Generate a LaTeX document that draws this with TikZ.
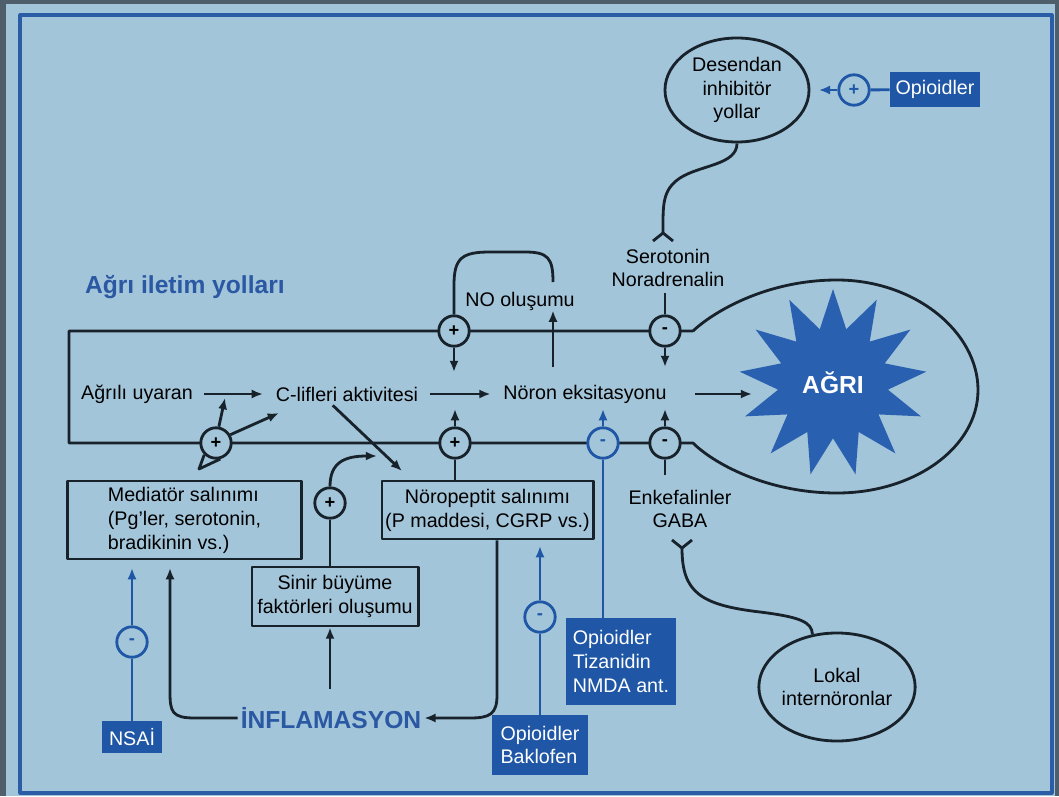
\documentclass[tikz,border=0pt]{standalone}
\usepackage{fontspec}
\setmainfont{Liberation Sans}
\usetikzlibrary{shapes.geometric,arrows.meta}
\definecolor{bgcol}{HTML}{A3C5DA}
\definecolor{edgecol}{HTML}{4E5E6A}
\definecolor{framecol}{HTML}{2B5DA6}
\definecolor{linecol}{HTML}{18222B}
\definecolor{drugblue}{HTML}{1F57A6}
\definecolor{starblue}{HTML}{2A60B0}
\definecolor{titleblue}{HTML}{2A58A2}
\tikzset{
  txt/.style={inner sep=0pt, font=\fontsize{14}{17}\selectfont},
  bigtxt/.style={inner sep=2pt, text=titleblue, font=\bfseries\fontsize{17.5}{20}\selectfont},
  sign/.style={shape=circle, draw=linecol, line width=2pt, fill=bgcol, minimum size=0.76cm, inner sep=0pt, font=\bfseries\fontsize{13}{13}\selectfont},
  bsign/.style={sign, draw=drugblue, text=drugblue},
  rbox/.style={draw=linecol, line width=2.1pt, inner sep=2pt, font=\fontsize{14}{17}\selectfont},
  drug/.style={fill=drugblue, text=white, inner sep=4pt, align=left, font=\fontsize{14}{17}\selectfont},
  ovalnode/.style={shape=ellipse, draw=linecol, line width=2pt, align=center, inner sep=0pt, font=\fontsize{14}{17}\selectfont},
  wire/.style={draw=linecol, line width=2pt},
  bwire/.style={draw=drugblue, line width=2pt}
}
\begin{document}
\begin{tikzpicture}[x=0.025cm, y=-0.025cm, >={Latex[length=8pt,width=6.5pt]}, line join=round]
\fill[edgecol] (0,0) rectangle (1059,796);
\fill[bgcol] (6,4) rectangle (1055,796);
\draw[framecol, line width=2.2pt] (20,15) rectangle (1052,793);
\useasboundingbox (0,0) rectangle (1059,796);

\node[bigtxt, anchor=west] (title) at (82,287) {Ağrı iletim yolları};

\draw[wire] (693,331) -- (69,331) -- (69,443) -- (693,443) .. controls (712,462) and (765,493) .. (837,493) .. controls (915,493) and (978,447) .. (978,390) .. controls (978,332) and (915,280) .. (837,280) .. controls (765,280) and (712,313) .. (693,331);

\node[star, star points=13, star point ratio=1.7, fill=starblue, minimum size=4.7cm, inner sep=0pt, text=white, font=\bfseries\fontsize{17.5}{20}\selectfont] (agri) at (833,383) {AĞRI};

\node[txt] (uyaran) at (137,394) {Ağrılı uyaran};
\node[txt] (clif) at (347,394) {C-lifleri aktivitesi};
\node[txt] (noron) at (585,394) {Nöron eksitasyonu};
\node[txt] (nooi) at (520,301) {NO oluşumu};
\node[txt, align=center] (ser) at (668,268) {Serotonin\\Noradrenalin};
\node[txt, align=center] (enk) at (680,509) {Enkefalinler\\GABA};

\node[sign] (pA) at (216,443) {+};
\node[sign] (pNO) at (454,331) {+};
\node[sign] (pNP) at (455,443) {+};
\node[sign] (pSin) at (330,503) {+};
\node[sign] (mSer) at (665,331) {-};
\node[sign] (mEnk) at (665,443) {-};
\node[bsign] (mTiz) at (603,443) {-};
\node[bsign] (mNsai) at (132,642) {-};
\node[bsign] (mBak) at (540,617) {-};
\node[bsign] (pOpi) at (854,90) {+};

\node[rbox, minimum width=5.825cm, minimum height=1.95cm, align=left] (med) at (184.5,520) {Mediatör salınımı\\(Pg’ler, serotonin,\\bradikinin vs.)};
\node[rbox, minimum width=5.275cm, minimum height=1.45cm, align=center] (np) at (487.5,510) {Nöropeptit salınımı\\(P maddesi, CGRP vs.)};
\node[rbox, minimum width=4.15cm, minimum height=1.475cm, align=center] (sinir) at (335,596.5) {Sinir büyüme\\faktörleri oluşumu};
\node[bigtxt] (inflam) at (331,718) {İNFLAMASYON};

\node[drug, minimum width=1.5cm, minimum height=0.8cm] (nsai) at (132,737) {NSAİ};
\node[drug, minimum width=2.375cm, minimum height=1.5cm] (bak) at (540,745) {Opioidler\\Baklofen};
\node[drug, minimum width=2.75cm, minimum height=2.175cm] (tiz) at (621,661.5) {Opioidler\\Tizanidin\\NMDA ant.};
\node[drug, minimum width=2.2cm, minimum height=0.875cm] (opi) at (935,89.5) {Opioidler};

\node[ovalnode, minimum width=3.6cm, minimum height=2.6cm] (desc) at (737,90) {Desendan\\inhibitör\\yollar};
\node[ovalnode, minimum width=3.6cm, minimum height=2.7cm] (lokal) at (837,687) {Lokal\\internöronlar};

\coordinate (agriIn) at (752,394);
\coordinate (noDown) at (454,372);
\coordinate (noUp) at (553,367);
\coordinate (noArc) at (553,282);
\coordinate (serDown) at (665,367);
\coordinate (npUp) at (455,409);
\coordinate (tizUp) at (603,409);
\coordinate (enkUp) at (665,409);
\coordinate (aTip1) at (225,398);
\coordinate (aTip2) at (279,413);
\coordinate (aV) at (199,469);
\coordinate (npIn) at (402,471);
\coordinate (sinTip) at (377,456);
\coordinate (medIn) at (170,568);
\coordinate (npDown) at (497,695);
\coordinate (nsaiTip) at (132,568);
\coordinate (bakTip) at (540,546);
\coordinate (serY) at (663,233);
\coordinate (enkY) at (682,548);

\path[->, wire, shorten <=8pt, shorten >=9pt] (uyaran) edge (clif) (clif) edge (noron);
\draw[->, wire, shorten <=20pt] (noron.east) -- (agriIn);

\draw[->, wire] (pNO) -- (noDown);
\draw[->, wire] (noUp) -- (nooi.south -| noUp);
\draw[wire] (pNO.north) -- (454,285) .. controls (454,258) and (462,252) .. (490,252) -- (525,252) .. controls (548,252) and (553,258) .. (noArc);
\draw[wire, shorten <=4pt] (ser.south -| mSer) -- (mSer);
\draw[->, wire] (mSer) -- (serDown);

\draw[->, wire] (pNP) -- (npUp);
\draw[wire] (pNP) -- (pNP |- np.north);
\draw[->, bwire] (mTiz) -- (tizUp);
\draw[bwire] (mTiz) -- (mTiz |- tiz.north);
\draw[->, wire] (mEnk) -- (enkUp);
\draw[wire, shorten >=10pt] (mEnk) -- (mEnk |- enk.north);

\draw[->, wire] (pA.80) -- (aTip1);
\draw[->, wire] (pA.30) -- (aTip2);
\draw[wire] (pA.225) -- (aV) -- (pA.285);
\draw[->, wire, shorten <=4pt] ([xshift=-13pt]clif.south) -- (npIn);

\draw[wire] (pSin) -- (pSin |- sinir.north);
\draw[->, wire] (pSin.north) .. controls (330,462) and (345,456) .. (sinTip);
\draw[->, wire, shorten <=11pt] (inflam.north -| pSin) -- (pSin |- sinir.south);
\draw[->, wire] (inflam.west) -- (195,718) .. controls (172,718) and (170,712) .. (170,692) -- (medIn);
\draw[->, wire] (np.south -| npDown) -- (npDown) .. controls (497,714) and (490,718) .. (470,718) -- (inflam.east);

\draw[bwire] (nsai) -- (mNsai);
\draw[->, bwire] (mNsai) -- (nsaiTip);
\draw[bwire] (bak) -- (mBak);
\draw[->, bwire] (mBak) -- (bakTip);
\draw[bwire] (opi) -- (pOpi);
\draw[->, bwire, shorten >=6pt] (pOpi) -- (desc);

\draw[wire] (desc.south) .. controls (737,165) and (700,165) .. (680,178) .. controls (662,190) and (663,205) .. (serY);
\draw[wire] ([shift={(-10,8)}]serY) -- (serY) -- ([shift={(10,8)}]serY);
\draw[wire] ([shift={(-10,-8)}]enkY) -- (enkY) -- ([shift={(10,-8)}]enkY);
\draw[wire] (enkY) .. controls (682,592) and (700,605) .. (760,612) .. controls (800,617) and (812,622) .. (lokal.115);
\end{tikzpicture}
\end{document}
